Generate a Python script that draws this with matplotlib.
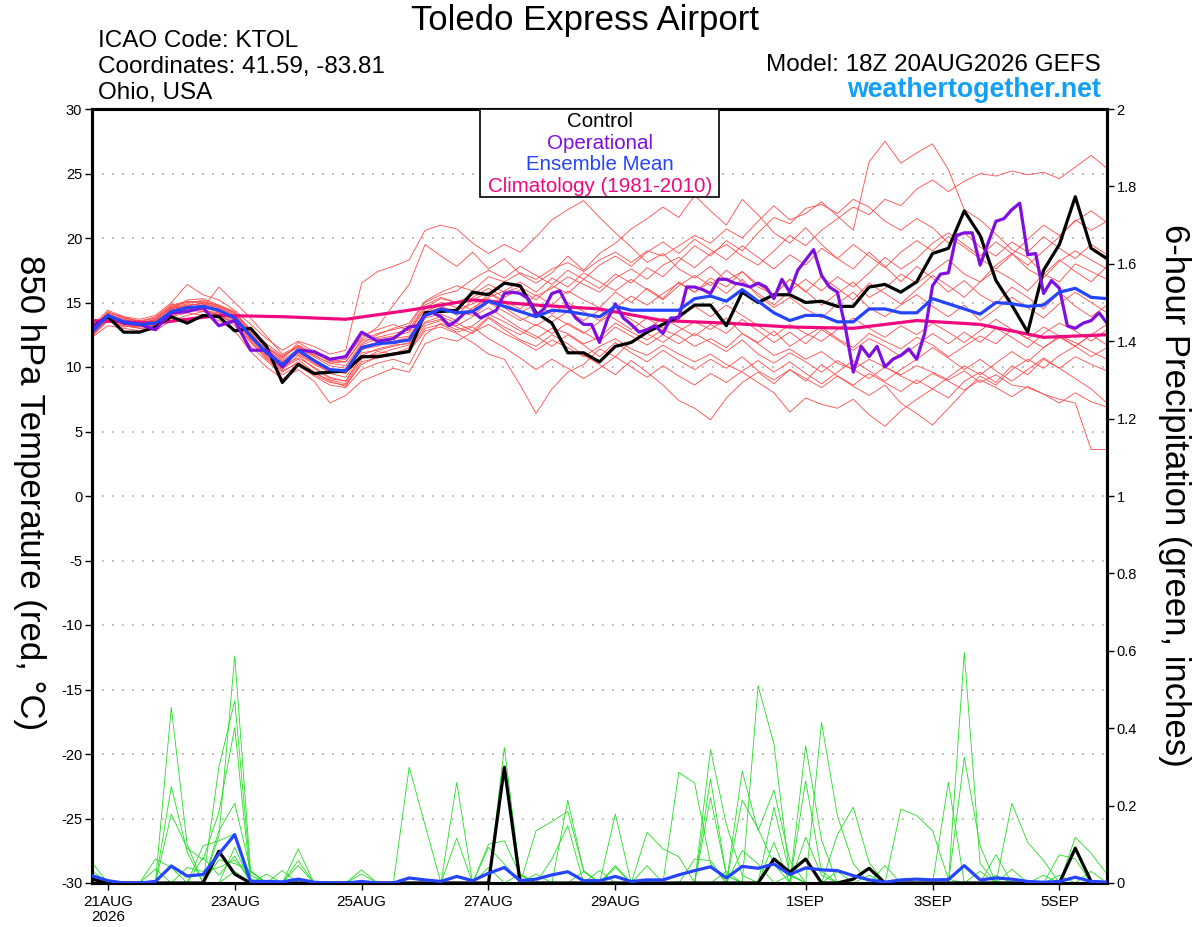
import numpy as np
import matplotlib
matplotlib.use("Agg")
import matplotlib.pyplot as plt
from matplotlib.patches import Rectangle

plt.rcParams['font.family'] = ['Liberation Sans', 'DejaVu Sans']

# hours since model start (18Z 20AUG2026), 6-hourly
hours = np.arange(65) * 6

control_temp = [13.1, 13.9, 12.7, 12.7, 13.1, 13.9, 13.4, 14.0, 13.9, 12.8, 13.0, 11.6, 8.8,
                10.2, 9.5, 9.6, 9.7, 10.8, 10.8, 11.0, 11.2, 14.2, 14.3, 14.4, 15.8, 15.6,
                16.5, 16.3, 14.2, 13.4, 11.1, 11.1, 10.4, 11.6, 11.9, 12.7, 13.3, 13.9, 14.8,
                14.8, 13.2, 15.8, 15.0, 15.6, 15.6, 15.0, 15.1, 14.7, 14.7, 16.2, 16.4, 15.8,
                16.6, 18.8, 19.2, 22.1, 20.2, 16.7, 14.8, 12.7, 17.5, 19.5, 23.2, 19.2, 18.4]

mean_temp = [12.7, 14.0, 13.5, 13.3, 13.4, 14.3, 14.6, 14.7, 14.4, 13.8, 12.4, 11.1, 10.2,
             11.3, 10.5, 9.8, 9.7, 11.5, 11.8, 11.9, 12.1, 14.0, 14.5, 14.2, 14.3, 15.1,
             14.7, 14.3, 13.9, 14.4, 14.3, 14.1, 13.9, 14.7, 14.4, 14.4, 14.4, 14.4, 15.3,
             15.5, 15.1, 16.0, 15.1, 14.2, 13.6, 14.0, 14.0, 13.5, 13.5, 14.5, 14.5, 14.2,
             14.2, 15.3, 14.9, 14.5, 14.1, 15.0, 14.9, 14.7, 14.8, 15.8, 16.1, 15.4, 15.3]

# operational run: 6-hourly at first, then 3-hourly
oper_hours = list(range(0, 120, 6)) + list(range(120, 385, 3))
oper_temp = [13.0, 14.0, 13.4, 13.3, 12.9, 14.2, 14.3, 14.6, 13.2, 13.6, 11.3, 11.3, 10.0,
             11.3, 11.2, 10.6, 10.8, 12.7, 12.0, 12.2,
             13.1, 13.2, 14.0, 14.2, 13.9, 13.2, 13.6, 14.2, 14.3, 13.8, 14.1, 14.4, 15.7,
             15.8, 15.7, 15.3, 14.0, 14.5, 15.7, 15.9, 14.7, 13.8, 13.3, 13.3, 11.9, 13.7,
             14.9, 13.8, 13.3, 12.7, 12.9, 13.2, 12.6, 13.8, 13.8, 16.2, 16.2, 16.0, 15.7,
             16.8, 16.8, 16.5,
             16.4, 16.2, 16.5, 16.2, 15.3, 16.8, 15.8, 17.5, 18.3, 19.1, 17.1, 16.2, 15.8,
             13.1, 9.6, 11.6, 10.8, 11.6, 10.0, 10.6, 10.9, 11.4, 10.6, 12.6, 16.3, 17.2,
             17.3, 20.2, 20.4, 20.4, 17.9, 19.6, 21.3, 21.5, 22.2, 22.7, 18.7, 18.8, 15.7,
             16.7, 16.1, 13.2, 13.0, 13.4, 13.6, 14.2, 13.4]

clim_hours = list(range(0, 385, 24))
clim_temp = [13.6, 13.4, 14.0, 13.9, 13.7, 14.4, 15.2, 14.8, 14.5, 13.6, 13.4, 13.1, 13.0,
             13.6, 13.3, 12.3, 12.5]

member_temp = [
    [12.4, 13.8, 13.6, 13.5, 13.9, 14.8, 15.1, 14.9, 14.2, 13.6, 12.9, 11.8, 10.9,
     11.5, 10.9, 10.3, 10.1, 11.8, 12.5, 13.0, 13.4, 15.1, 15.8, 16.3, 15.9, 17.0,
     16.6, 17.3, 16.8, 17.6, 18.1, 17.4, 18.3, 18.9, 18.1, 19.0, 18.6, 19.4, 20.2,
     19.6, 20.7, 20.0, 21.3, 22.5, 21.4, 21.9, 22.8, 21.7, 20.6, 25.9, 27.5, 25.8,
     26.6, 27.3, 25.3, 22.2, 21.4, 20.3, 19.1, 18.5, 17.2, 16.6, 18.0, 17.4, 16.8],
    [13.0, 14.3, 13.8, 13.6, 13.2, 14.5, 15.2, 15.3, 14.8, 14.2, 12.9, 11.5, 10.6,
     11.9, 11.2, 10.4, 10.6, 12.4, 12.9, 13.3, 12.8, 14.6, 15.3, 15.0, 15.6, 16.4,
     15.8, 16.2, 15.5, 16.1, 17.0, 16.4, 15.8, 16.9, 17.6, 16.8, 17.9, 18.5, 17.7,
     18.8, 19.5, 18.6, 17.9, 19.0, 20.2, 19.4, 20.6, 21.5, 22.4, 21.8, 23.0, 22.5,
     23.8, 24.5, 23.6, 24.4, 25.0, 24.8, 25.2, 24.9, 25.1, 24.6, 25.5, 26.4, 25.4],
    [12.9, 13.5, 13.2, 13.0, 12.8, 13.6, 14.0, 14.3, 14.1, 13.2, 11.6, 10.5, 9.4,
     10.1, 9.3, 8.6, 8.4, 9.8, 10.3, 10.6, 10.2, 12.5, 13.4, 12.9, 13.2, 14.1,
     13.5, 12.8, 12.2, 13.0, 12.6, 11.8, 12.3, 13.4, 12.7, 12.1, 12.9, 12.4, 11.6,
     12.2, 11.5, 12.6, 11.8, 10.9, 11.4, 10.6, 11.2, 10.3, 9.8, 10.6, 10.0, 9.4,
     10.1, 9.6, 9.0, 9.7, 8.8, 9.4, 8.6, 8.4, 7.9, 7.5, 7.2, 3.6, 3.6],
    [12.3, 13.2, 13.0, 12.8, 13.0, 13.9, 14.2, 14.0, 13.6, 12.8, 11.2, 10.0, 9.1,
     9.8, 8.9, 7.2, 7.8, 8.9, 9.4, 9.9, 9.6, 11.8, 12.3, 12.0, 12.7, 13.3,
     12.6, 12.0, 11.3, 12.1, 11.5, 10.8, 11.6, 12.2, 11.4, 10.9, 11.7, 11.0, 10.4,
     11.0, 10.2, 9.6, 8.8, 8.0, 6.5, 7.6, 7.1, 6.8, 7.5, 6.3, 5.4, 6.6,
     7.5, 8.3, 7.6, 8.9, 9.6, 8.8, 10.1, 9.4, 10.6, 9.9, 10.8, 10.2, 9.7],
    [13.1, 14.1, 13.7, 13.4, 13.6, 14.6, 14.7, 15.0, 14.6, 14.0, 12.6, 11.0, 9.9,
     10.6, 9.6, 8.9, 8.5, 10.4, 10.7, 10.9, 11.2, 12.8, 13.1, 12.6, 11.9, 11.0,
     10.6, 8.6, 6.4, 8.3, 9.6, 10.2, 11.4, 10.8, 12.0, 12.6, 11.9, 12.8, 13.5,
     12.9, 13.8, 12.6, 11.9, 12.8, 11.6, 12.4, 13.1, 12.2, 11.5, 12.6, 12.0, 11.4,
     12.3, 11.7, 10.8, 11.6, 12.4, 11.8, 12.9, 12.2, 11.5, 12.4, 11.9, 11.2, 10.6],
    [12.6, 14.2, 13.9, 13.7, 14.0, 15.0, 16.4, 15.6, 15.2, 14.4, 13.3, 12.2, 11.3,
     12.0, 11.6, 11.0, 11.3, 16.5, 17.4, 17.8, 18.3, 20.6, 21.0, 20.7, 19.6, 18.8,
     19.5, 18.9, 20.1, 21.4, 22.2, 22.9, 21.6, 20.4, 19.3, 18.1, 18.8, 17.6, 16.9,
     17.8, 16.7, 17.4, 16.2, 15.6, 16.8, 15.9, 14.8, 15.7, 16.6, 15.4, 16.1, 17.2,
     16.5, 17.4, 18.3, 17.2, 16.6, 17.9, 18.8, 17.6, 16.9, 18.2, 19.0, 18.3, 17.6],
    [12.8, 13.9, 13.4, 13.6, 13.8, 14.9, 14.4, 14.6, 16.2, 15.0, 13.8, 12.4, 11.0,
     11.6, 11.0, 10.6, 10.9, 12.2, 13.1, 14.8, 16.4, 19.5, 18.6, 17.8, 18.9, 17.6,
     18.4, 17.2, 16.5, 17.3, 18.6, 17.5, 18.8, 19.6, 20.7, 21.5, 22.4, 21.6, 23.3,
     22.1, 21.0, 23.0, 21.8, 20.4, 19.6, 20.8, 19.5, 18.4, 17.6, 18.9, 17.8, 16.6,
     17.8, 16.9, 15.8, 16.7, 15.6, 14.9, 16.2, 15.4, 14.5, 15.8, 14.7, 13.9, 14.8],
    [12.4, 13.6, 13.1, 13.2, 12.9, 14.0, 14.3, 14.5, 14.0, 13.5, 12.0, 10.6, 9.6,
     10.4, 9.5, 9.0, 8.7, 10.6, 11.2, 11.0, 11.5, 13.2, 13.6, 13.1, 12.6, 13.8,
     12.9, 12.1, 11.6, 12.5, 11.8, 10.9, 10.2, 9.4, 10.5, 9.6, 8.6, 7.4, 6.8,
     5.9, 7.6, 8.8, 9.6, 8.7, 9.8, 8.9, 10.2, 9.3, 8.5, 7.8, 8.6, 7.2,
     6.4, 5.5, 6.8, 8.1, 9.3, 8.6, 9.8, 10.6, 9.9, 10.9, 11.6, 10.8, 11.5],
    [12.6, 13.9, 13.4, 13.2, 13.5, 14.2, 14.7, 14.6, 14.3, 13.9, 12.5, 11.4, 10.4,
     11.0, 10.2, 9.6, 9.8, 11.4, 11.6, 12.2, 12.4, 14.3, 14.8, 14.0, 15.2, 15.8,
     15.1, 14.5, 15.6, 14.8, 15.9, 15.2, 14.6, 15.8, 15.0, 16.1, 15.3, 16.6, 15.8,
     16.9, 16.2, 17.4, 16.4, 15.6, 16.8, 15.8, 17.0, 16.1, 15.2, 16.5, 15.7, 14.9,
     16.0, 17.1, 16.3, 15.4, 16.6, 17.5, 16.8, 15.9, 17.2, 18.3, 17.4, 16.6, 17.8],
    [12.9, 14.1, 13.6, 13.3, 13.2, 14.4, 14.8, 14.9, 14.5, 13.7, 12.2, 10.9, 10.0,
     11.2, 10.4, 9.5, 9.2, 11.1, 11.3, 11.6, 11.9, 13.8, 14.1, 13.6, 14.6, 15.3,
     14.6, 13.8, 13.2, 14.0, 13.3, 12.6, 13.5, 14.3, 13.7, 12.9, 13.8, 13.1, 12.4,
     13.3, 12.6, 13.7, 12.8, 11.9, 12.7, 11.8, 12.9, 12.1, 11.3, 12.2, 11.6, 10.8,
     11.7, 12.6, 11.8, 12.7, 11.9, 13.0, 12.3, 11.5, 12.6, 13.4, 12.8, 12.0, 12.9],
    [12.7, 14.0, 13.5, 13.4, 13.7, 14.6, 14.9, 15.2, 14.7, 14.1, 12.7, 11.3, 10.5,
     11.4, 10.8, 10.1, 9.9, 11.7, 12.2, 12.4, 12.7, 14.5, 15.0, 14.6, 15.4, 16.1,
     15.4, 16.0, 15.2, 16.3, 15.7, 16.8, 16.1, 17.2, 16.5, 17.7, 17.0, 18.2, 19.4,
     18.6, 19.8, 19.0, 20.4, 21.6, 21.1, 22.3, 22.6, 21.9, 23.0, 22.4, 21.3, 20.6,
     21.5, 20.8, 19.6, 20.4, 19.3, 18.6, 19.7, 18.9, 20.1, 19.2, 18.4, 19.5, 18.7],
    [12.5, 13.7, 13.3, 13.1, 13.3, 14.1, 14.5, 14.4, 14.2, 13.6, 12.3, 11.0, 10.1,
     10.7, 10.0, 9.2, 8.9, 10.8, 11.0, 11.4, 11.7, 13.5, 13.9, 13.4, 12.8, 13.9,
     13.1, 12.5, 13.3, 12.6, 13.4, 12.7, 12.0, 13.1, 12.4, 11.7, 12.5, 11.8, 12.6,
     11.9, 11.2, 12.1, 11.0, 10.3, 11.1, 10.4, 9.6, 10.5, 9.8, 9.1, 10.0, 9.3,
     8.7, 9.5, 8.9, 8.2, 9.0, 8.4, 7.7, 8.5, 7.9, 7.2, 8.0, 7.3, 6.9],
    [13.2, 14.4, 13.9, 13.5, 13.6, 14.7, 15.1, 15.0, 14.8, 14.3, 12.8, 11.6, 10.8,
     11.6, 10.9, 10.3, 10.4, 12.0, 12.3, 12.6, 12.9, 14.8, 15.4, 15.0, 14.4, 15.7,
     15.0, 14.2, 14.9, 14.1, 15.0, 14.3, 13.6, 14.6, 15.5, 14.8, 15.7, 16.5, 15.8,
     16.6, 15.7, 16.8, 15.5, 14.6, 15.4, 14.5, 13.8, 14.9, 15.8, 14.6, 13.9, 14.8,
     15.6, 14.7, 13.9, 14.8, 13.6, 14.5, 15.4, 14.6, 13.8, 14.9, 15.8, 15.0, 14.2],
    [12.8, 13.9, 13.3, 13.1, 13.4, 14.3, 14.5, 14.8, 14.3, 13.7, 12.1, 10.8, 9.8,
     10.9, 9.9, 9.1, 8.9, 10.9, 11.4, 11.7, 11.8, 13.4, 13.7, 13.2, 13.9, 14.6,
     13.8, 13.0, 12.4, 11.6, 12.5, 11.7, 10.8, 11.9, 11.1, 10.4, 11.3, 10.5, 9.8,
     10.6, 9.9, 10.8, 9.7, 9.0, 9.8, 9.1, 8.4, 9.3, 8.6, 9.5, 8.8, 8.1,
     9.0, 8.3, 9.2, 10.1, 9.4, 10.3, 11.2, 10.4, 11.5, 12.3, 11.6, 12.5, 11.7],
    [12.6, 13.8, 13.5, 13.3, 13.7, 14.5, 14.8, 14.9, 14.6, 14.0, 12.6, 11.2, 10.3,
     11.1, 10.3, 9.7, 9.5, 11.3, 11.9, 12.0, 12.3, 14.2, 14.6, 14.4, 14.9, 15.4,
     15.9, 16.6, 15.8, 16.9, 16.2, 17.3, 16.6, 15.9, 16.8, 16.0, 15.2, 16.3, 17.1,
     16.3, 17.5, 16.6, 15.7, 14.8, 15.9, 16.8, 15.9, 17.0, 16.2, 17.3, 18.5, 17.6,
     18.4, 19.6, 20.4, 19.5, 18.6, 19.7, 18.8, 17.9, 19.0, 20.1, 21.4, 20.6, 21.3],
    [12.9, 14.0, 13.7, 13.4, 13.5, 14.4, 14.6, 14.7, 14.4, 13.9, 12.5, 11.1, 10.3,
     11.3, 10.6, 9.8, 9.5, 11.6, 11.9, 11.8, 12.1, 14.1, 14.6, 14.3, 14.0, 15.0,
     14.3, 13.6, 14.2, 13.5, 14.3, 13.6, 14.4, 13.7, 12.9, 13.8, 13.0, 13.9, 14.7,
     13.9, 14.8, 14.0, 13.2, 12.4, 13.3, 12.6, 12.0, 12.9, 13.8, 13.0, 12.3, 13.2,
     12.5, 13.4, 12.7, 11.9, 12.8, 13.7, 12.9, 12.2, 13.1, 12.4, 11.6, 12.5, 13.3],
    [13.0, 14.2, 13.8, 13.5, 13.8, 14.7, 15.0, 15.1, 14.7, 14.2, 12.9, 11.5, 10.7,
     11.7, 11.1, 10.5, 10.4, 12.1, 12.6, 12.9, 13.2, 15.0, 15.6, 15.9, 16.8, 17.5,
     16.9, 17.8, 17.1, 16.4, 17.5, 16.8, 17.9, 18.6, 17.8, 18.9, 19.7, 18.8, 19.9,
     19.1, 18.3, 19.4, 18.5, 17.6, 18.7, 17.9, 19.2, 18.4, 19.5, 18.6, 17.7, 18.9,
     19.8, 19.0, 20.1, 19.3, 18.4, 17.6, 18.7, 19.9, 21.0, 20.2, 21.3, 22.1, 21.2],
    [12.4, 13.6, 13.2, 13.0, 13.1, 14.0, 14.4, 14.3, 14.0, 13.4, 11.9, 10.7, 9.7,
     10.3, 9.4, 8.8, 8.6, 10.2, 10.8, 11.1, 11.3, 13.0, 13.3, 12.7, 13.1, 12.2,
     11.5, 10.7, 9.8, 10.6, 9.9, 9.1, 9.9, 10.8, 10.0, 9.2, 10.1, 9.3, 8.6,
     9.5, 8.8, 9.7, 10.5, 9.6, 10.4, 9.5, 8.7, 9.6, 10.5, 9.7, 8.9, 9.8,
     10.6, 11.5, 10.7, 9.8, 10.6, 9.7, 8.9, 9.8, 10.7, 9.9, 9.1, 8.3, 7.2],
]

# 6-hour precipitation, inches
control_precip = [0.01, 0, 0, 0, 0, 0, 0, 0, 0.082, 0.023, 0, 0, 0,
                  0, 0, 0, 0, 0, 0, 0, 0, 0, 0, 0, 0, 0,
                  0.299, 0, 0, 0, 0, 0, 0, 0, 0, 0, 0, 0, 0,
                  0, 0, 0, 0, 0.062, 0.028, 0.062, 0, 0, 0.01, 0.038, 0, 0,
                  0, 0, 0, 0, 0, 0, 0, 0, 0, 0, 0.09, 0.004, 0]

mean_precip = [0.019, 0.006, 0, 0, 0.004, 0.044, 0.018, 0.022, 0.075, 0.125, 0.004, 0.004, 0.003,
               0.01, 0.002, 0, 0, 0.004, 0, 0, 0.013, 0.008, 0.004, 0.017, 0.006, 0.025,
               0.04, 0.006, 0.01, 0.021, 0.029, 0.006, 0.006, 0.017, 0.004, 0.008, 0.008, 0.021, 0.032,
               0.042, 0.013, 0.043, 0.038, 0.049, 0.022, 0.039, 0.034, 0.032, 0.019, 0.008, 0.002, 0.008,
               0.01, 0.008, 0.009, 0.045, 0.008, 0.013, 0.01, 0.004, 0.002, 0.004, 0.015, 0.004, 0.002]

member_precip = [
    [0, 0, 0, 0, 0, 0.454, 0.10, 0, 0.12, 0.587, 0.03, 0, 0,
     0, 0, 0, 0, 0, 0, 0, 0, 0, 0, 0, 0, 0,
     0.35, 0.02, 0, 0, 0, 0, 0, 0, 0, 0, 0, 0, 0,
     0, 0, 0, 0.51, 0.359, 0.02, 0, 0, 0, 0, 0, 0, 0,
     0, 0, 0, 0.596, 0.05, 0, 0, 0, 0, 0, 0, 0, 0],
    [0, 0, 0, 0, 0, 0.249, 0.08, 0, 0.299, 0.471, 0.02, 0, 0,
     0, 0, 0, 0, 0, 0, 0, 0, 0, 0, 0.26, 0, 0,
     0, 0, 0, 0, 0, 0, 0, 0, 0, 0, 0, 0, 0,
     0.345, 0.151, 0.02, 0, 0, 0, 0, 0.415, 0.174, 0.05, 0, 0, 0,
     0, 0, 0, 0, 0, 0, 0, 0, 0, 0, 0, 0, 0],
    [0, 0, 0, 0, 0, 0.178, 0.09, 0.06, 0.183, 0.402, 0, 0, 0,
     0, 0, 0, 0, 0, 0, 0, 0.299, 0.15, 0, 0, 0, 0,
     0, 0, 0, 0, 0, 0, 0, 0, 0, 0, 0, 0.286, 0.258,
     0.05, 0, 0, 0, 0, 0, 0.355, 0.111, 0, 0, 0, 0, 0,
     0, 0, 0, 0.325, 0.096, 0, 0, 0, 0, 0, 0, 0, 0],
    [0.053, 0, 0, 0, 0.062, 0.04, 0, 0, 0.135, 0.206, 0.03, 0, 0,
     0, 0, 0, 0, 0, 0, 0, 0, 0, 0, 0, 0, 0,
     0, 0, 0, 0, 0.214, 0.03, 0, 0, 0, 0, 0, 0, 0,
     0, 0, 0.289, 0.135, 0.24, 0.058, 0, 0, 0, 0, 0, 0, 0,
     0, 0, 0.26, 0, 0, 0, 0.206, 0.105, 0.058, 0, 0, 0, 0],
    [0.032, 0, 0, 0, 0, 0, 0, 0.096, 0.109, 0.127, 0, 0, 0,
     0.088, 0, 0, 0, 0, 0, 0, 0, 0, 0, 0, 0, 0,
     0, 0, 0.135, 0.159, 0.185, 0.032, 0, 0, 0, 0, 0, 0, 0,
     0.269, 0.019, 0, 0, 0, 0, 0.264, 0.03, 0, 0, 0, 0, 0.191,
     0.174, 0.135, 0.01, 0, 0, 0, 0, 0, 0, 0, 0, 0, 0],
    [0.023, 0, 0, 0, 0.036, 0, 0, 0, 0, 0.092, 0, 0, 0,
     0.058, 0, 0, 0, 0, 0, 0, 0, 0, 0, 0.116, 0, 0.10,
     0.109, 0.02, 0, 0, 0, 0, 0, 0.178, 0, 0, 0, 0, 0,
     0.221, 0.02, 0, 0, 0.196, 0.023, 0, 0, 0.125, 0.196, 0.053, 0, 0,
     0, 0, 0, 0, 0, 0, 0, 0, 0, 0, 0.118, 0.077, 0.023],
    [0, 0, 0, 0, 0, 0, 0, 0.066, 0.02, 0.07, 0, 0, 0,
     0.045, 0, 0, 0, 0.034, 0, 0, 0, 0, 0, 0, 0, 0.092,
     0.049, 0, 0, 0.062, 0.148, 0, 0, 0, 0, 0.131, 0.088, 0.068, 0,
     0, 0, 0, 0, 0.105, 0, 0.118, 0.02, 0, 0, 0, 0.045, 0,
     0, 0, 0, 0, 0, 0.073, 0, 0, 0, 0.073, 0.062, 0, 0],
    [0, 0, 0, 0, 0, 0, 0, 0, 0.06, 0.05, 0.032, 0, 0.032,
     0, 0, 0, 0, 0.023, 0, 0, 0, 0, 0, 0, 0, 0.04,
     0, 0, 0.023, 0, 0, 0, 0, 0.045, 0, 0, 0, 0, 0.062,
     0.058, 0, 0.084, 0.049, 0, 0, 0, 0, 0, 0, 0.02, 0, 0,
     0, 0, 0, 0, 0.03, 0, 0.036, 0, 0.02, 0, 0, 0, 0],
    [0, 0, 0, 0, 0, 0, 0, 0, 0, 0.03, 0, 0.023, 0,
     0, 0, 0, 0, 0, 0, 0, 0, 0, 0, 0, 0, 0,
     0, 0.023, 0, 0, 0, 0, 0.032, 0, 0, 0.045, 0, 0, 0,
     0, 0, 0.214, 0.14, 0.05, 0, 0, 0, 0, 0, 0, 0, 0,
     0, 0, 0, 0, 0, 0.02, 0, 0, 0, 0, 0, 0.03, 0],
    [0, 0, 0, 0, 0, 0, 0.04, 0.03, 0.04, 0.06, 0.01, 0, 0,
     0, 0, 0, 0, 0, 0, 0, 0, 0, 0, 0, 0, 0,
     0, 0, 0, 0, 0, 0.03, 0, 0.04, 0, 0, 0, 0, 0,
     0, 0.03, 0, 0, 0, 0.02, 0, 0, 0.03, 0, 0, 0, 0,
     0, 0, 0, 0, 0, 0, 0, 0, 0, 0.02, 0, 0, 0],
]

tick_hours = [6, 54, 102, 150, 198, 270, 318, 366]
tick_labels = ['21AUG\n2026', '23AUG', '25AUG', '27AUG', '29AUG', '1SEP', '3SEP', '5SEP']
temp_ticks = list(range(-30, 31, 5))
precip_ticks = [0, 0.2, 0.4, 0.6, 0.8, 1, 1.2, 1.4, 1.6, 1.8, 2]

RED = '#ff4a4a'
GREEN = '#22dd22'
PURPLE = '#7f0fdf'
BLUE = '#2444ff'
PINK = '#f0087f'

fig = plt.figure(figsize=(12, 9.27), dpi=100)
ax = fig.add_axes([92 / 1200, 44 / 927, 1015 / 1200, 774 / 927])
ax2 = ax.twinx()

for yv in temp_ticks[1:-1]:
    ax.axhline(yv, color='#aaaaaa', lw=1.2, ls=(0, (1, 5)), zorder=0)

for m in member_temp:
    ax.plot(hours, m, color=RED, lw=0.6, zorder=1)
ax.plot(clim_hours, clim_temp, color=PINK, lw=2.3, zorder=2)
ax.plot(hours, control_temp, color='black', lw=2.3, zorder=3)
ax.plot(oper_hours, oper_temp, color=PURPLE, lw=2.3, zorder=4)
ax.plot(hours, mean_temp, color=BLUE, lw=2.3, zorder=5)

for m in member_precip:
    ax2.plot(hours, m, color=GREEN, lw=0.6, zorder=1)
ax2.plot(hours, control_precip, color='black', lw=2.3, zorder=3)
ax2.plot(hours, mean_precip, color=BLUE, lw=2.3, zorder=4)

ax.set_xlim(0, 384)
ax.set_ylim(-30, 30)
ax2.set_ylim(0, 2)

ax.set_yticks(temp_ticks)
ax.set_yticklabels([str(t) for t in temp_ticks], fontsize=10.5)
ax2.set_yticks(precip_ticks)
ax2.set_yticklabels(['%g' % p for p in precip_ticks], fontsize=10.5)
ax.set_xticks(tick_hours)
ax.set_xticklabels(tick_labels, fontsize=11, linespacing=1.05)

ax.tick_params(axis='y', direction='out', length=5, width=1, pad=2)
ax2.tick_params(axis='y', direction='out', length=5, width=1, pad=2)
ax.tick_params(axis='x', direction='out', length=5, width=1, pad=4)

for a in (ax, ax2):
    for s in a.spines.values():
        s.set_linewidth(2.2)

# axis titles, both read top to bottom
fig.text(29 / 1200, 1 - 493 / 927, '850 hPa Temperature (red, °C)', fontsize=25,
         rotation=270, ha='center', va='center')
fig.text(1175 / 1200, 1 - 495 / 927, '6-hour Precipitation (green, inches)', fontsize=25,
         rotation=270, ha='center', va='center')

# header texts
fig.text(585 / 1200, 1 - 30 / 927, 'Toledo Express Airport', fontsize=25,
         ha='center', va='baseline')
info = ['ICAO Code: KTOL', 'Coordinates: 41.59, -83.81', 'Ohio, USA']
for k, line in enumerate(info):
    fig.text(98 / 1200, 1 - (47 + 26 * k) / 927, line, fontsize=17.5,
             ha='left', va='baseline')
fig.text(1101 / 1200, 1 - 71 / 927, 'Model: 18Z 20AUG2026 GEFS', fontsize=17.5,
         ha='right', va='baseline')
fig.text(1101 / 1200, 1 - 97 / 927, 'weathertogether.net', fontsize=19.3,
         fontweight='bold', color='#12a0f7', ha='right', va='baseline')

# legend box
fig.add_artist(Rectangle((480 / 1200, 1 - 197 / 927), 239 / 1200, 88 / 927,
                         transform=fig.transFigure, facecolor='white',
                         edgecolor='black', lw=1.2, zorder=5))
legend = [('Control', 'black'), ('Operational', PURPLE),
          ('Ensemble Mean', BLUE), ('Climatology (1981-2010)', PINK)]
for k, (name, col) in enumerate(legend):
    fig.text(600 / 1200, 1 - (127 + 21.7 * k) / 927, name, color=col,
             fontsize=14.8, ha='center', va='baseline', zorder=6)

fig.savefig('out.png', dpi=100)
